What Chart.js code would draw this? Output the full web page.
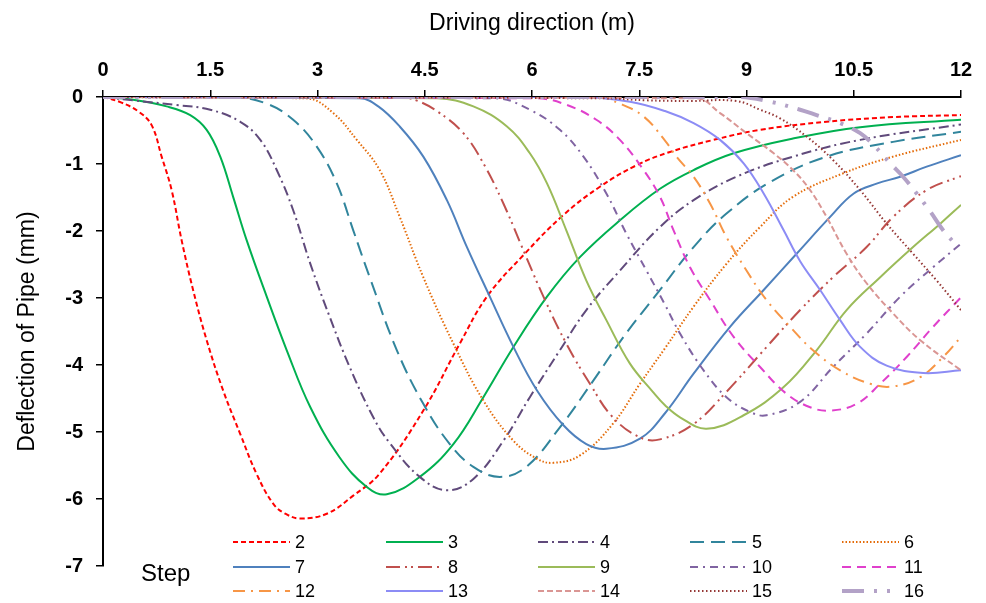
<!DOCTYPE html>
<html>
<head>
<meta charset="utf-8">
<title>Deflection of Pipe</title>
<script src="https://cdn.jsdelivr.net/npm/chart.js@4.4.0/dist/chart.umd.min.js"></script>
<style>
    html, body { margin: 0; padding: 0; background: #ffffff; }
    #wrap { width: 986px; height: 603px; }
</style>
</head>
<body>
<div id="wrap"><canvas id="deflectionChart" width="986" height="603"></canvas></div>
<script>
// Values (x in m, deflection in mm)
const stepLabels = ['2', '3', '4', '5', '6', '7', '8', '9', '10', '11', '12', '13', '14', '15', '16'];

const step2X = [0, 0.25, 0.5, 0.68, 0.82, 0.96, 1.1, 1.26, 1.45, 1.68, 1.92, 2.15, 2.38, 2.55, 2.76, 3.13, 3.5, 3.87, 4.48, 4.99, 5.37, 5.88, 6.44, 6.95, 7.46, 7.93, 8.54, 9.19, 10.12, 11.05, 12];
const step2Y = [0, -0.08, -0.22, -0.42, -0.89, -1.39, -2.14, -2.88, -3.63, -4.38, -5.03, -5.63, -6.07, -6.22, -6.29, -6.22, -5.95, -5.62, -4.68, -3.68, -2.98, -2.36, -1.76, -1.34, -1.02, -0.82, -0.64, -0.49, -0.37, -0.30, -0.27];

const step3X = [0, 0.42, 0.89, 1.22, 1.45, 1.64, 1.82, 2.01, 2.29, 2.57, 2.9, 3.31, 3.69, 3.97, 4.43, 4.9, 5.32, 5.74, 6.21, 6.67, 7.23, 7.79, 8.26, 8.82, 9.65, 10.59, 12];
const step3Y = [0, -0.04, -0.14, -0.27, -0.49, -0.89, -1.49, -2.14, -2.98, -3.78, -4.63, -5.38, -5.82, -5.93, -5.67, -5.18, -4.48, -3.73, -2.98, -2.39, -1.84, -1.37, -1.09, -0.84, -0.62, -0.45, -0.34];

const step4X = [0, 0.42, 1.03, 1.5, 1.92, 2.2, 2.43, 2.66, 2.9, 3.17, 3.45, 3.78, 4.0, 4.43, 4.81, 5.18, 5.6, 5.97, 6.39, 6.76, 7.23, 7.79, 8.26, 8.86, 9.65, 10.59, 12];
const step4Y = [0, -0.05, -0.12, -0.19, -0.37, -0.64, -1.09, -1.69, -2.49, -3.28, -4.03, -4.78, -5.15, -5.67, -5.87, -5.70, -5.13, -4.48, -3.78, -3.18, -2.59, -1.94, -1.54, -1.19, -0.89, -0.64, -0.41];

const step5X = [0, 1.82, 2.29, 2.66, 2.99, 3.27, 3.5, 3.73, 4.11, 4.48, 4.85, 5.18, 5.55, 5.92, 6.39, 6.86, 7.28, 7.79, 8.26, 8.72, 9.33, 10.12, 11.05, 12];
const step5Y = [0, 0, -0.10, -0.34, -0.74, -1.29, -1.99, -2.69, -3.78, -4.58, -5.18, -5.52, -5.67, -5.52, -4.93, -4.23, -3.58, -2.88, -2.24, -1.74, -1.27, -0.89, -0.67, -0.52];

const step6X = [0, 2.85, 3.22, 3.55, 3.87, 4.15, 4.48, 4.9, 5.32, 5.74, 6.07, 6.3, 6.67, 7.13, 7.51, 7.86, 8.26, 8.72, 9.19, 9.65, 10.35, 11.05, 12];
const step6Y = [0, -0.02, -0.24, -0.64, -1.09, -1.79, -2.69, -3.68, -4.53, -5.13, -5.40, -5.46, -5.35, -4.88, -4.28, -3.75, -3.13, -2.49, -1.94, -1.49, -1.14, -0.89, -0.64];

const step7X = [0, 3.59, 3.85, 4.15, 4.48, 4.81, 5.09, 5.41, 5.74, 6.07, 6.44, 6.76, 7.04, 7.51, 7.86, 8.26, 8.77, 9.24, 9.7, 10.17, 10.5, 10.83, 11.15, 11.52, 12];
const step7Y = [0, -0.02, -0.14, -0.44, -0.89, -1.54, -2.24, -2.98, -3.73, -4.38, -4.90, -5.18, -5.25, -5.10, -4.72, -4.13, -3.43, -2.88, -2.34, -1.79, -1.44, -1.29, -1.19, -1.04, -0.87];

const step8X = [0, 4.1, 4.38, 4.71, 5.04, 5.32, 5.6, 5.88, 6.16, 6.48, 6.81, 7.13, 7.51, 7.79, 8.26, 8.72, 9.24, 9.75, 10.21, 10.68, 11.05, 11.52, 12];
const step8Y = [0, 0, -0.05, -0.24, -0.54, -0.99, -1.59, -2.29, -2.98, -3.68, -4.28, -4.78, -5.08, -5.11, -4.88, -4.40, -3.78, -3.18, -2.69, -2.24, -1.79, -1.39, -1.18];

const step9X = [0, 4.67, 5.18, 5.65, 5.97, 6.21, 6.48, 6.76, 7.04, 7.37, 7.69, 7.86, 8.07, 8.44, 8.96, 9.52, 9.98, 10.4, 10.87, 11.33, 11.71, 12];
const step9Y = [0, -0.02, -0.14, -0.44, -0.84, -1.29, -1.99, -2.74, -3.33, -3.98, -4.40, -4.60, -4.78, -4.95, -4.75, -4.33, -3.78, -3.18, -2.69, -2.24, -1.89, -1.61];

const step10X = [0, 5.5, 5.97, 6.39, 6.72, 7.04, 7.32, 7.6, 7.86, 8.07, 8.4, 8.72, 9.05, 9.28, 9.75, 10.21, 10.68, 11.15, 11.61, 12];
const step10Y = [0, -0.02, -0.19, -0.49, -0.89, -1.44, -2.04, -2.59, -3.10, -3.53, -4.08, -4.48, -4.70, -4.75, -4.55, -4.03, -3.53, -2.98, -2.54, -2.19];

const step11X = [0, 6.07, 6.49, 6.9, 7.23, 7.56, 7.79, 7.98, 8.21, 8.49, 8.82, 9.19, 9.56, 9.89, 10.17, 10.54, 10.87, 11.24, 11.61, 12];
const step11Y = [0, -0.02, -0.12, -0.34, -0.64, -1.09, -1.49, -1.99, -2.54, -3.03, -3.58, -4.03, -4.43, -4.63, -4.68, -4.58, -4.28, -3.88, -3.43, -2.99];

const step12X = [0, 6.9, 7.23, 7.56, 7.86, 8.02, 8.26, 8.49, 8.72, 9.0, 9.28, 9.61, 9.93, 10.31, 10.73, 11.05, 11.43, 11.75, 12];
const step12Y = [0, 0, -0.10, -0.29, -0.65, -0.89, -1.19, -1.59, -2.09, -2.59, -3.03, -3.43, -3.78, -4.08, -4.28, -4.32, -4.18, -3.88, -3.58];

const step13X = [0, 6.67, 7.37, 7.86, 8.26, 8.63, 8.96, 9.24, 9.52, 9.75, 10.03, 10.31, 10.59, 10.96, 11.47, 12];
const step13Y = [0, 0, -0.07, -0.21, -0.39, -0.64, -0.99, -1.44, -1.99, -2.45, -2.88, -3.33, -3.73, -4.01, -4.12, -4.08];

const step14X = [0, 8.3, 8.63, 9.0, 9.38, 9.65, 9.89, 10.12, 10.4, 10.68, 11.05, 11.43, 12];
const step14Y = [0, -0.02, -0.24, -0.54, -0.84, -1.09, -1.39, -1.79, -2.34, -2.78, -3.23, -3.63, -4.08];

const step15X = [0, 7.0, 7.6, 8.2, 8.86, 9.19, 9.47, 9.84, 10.21, 10.59, 10.96, 11.33, 11.66, 12];
const step15Y = [0, -0.02, -0.05, -0.06, -0.06, -0.19, -0.32, -0.59, -0.94, -1.39, -1.89, -2.34, -2.74, -3.18];

const step16X = [0, 8.86, 9.33, 9.75, 9.98, 10.31, 10.59, 10.78, 11.01, 11.19, 11.38, 11.57, 11.75, 11.9];
const step16Y = [0, 0, -0.07, -0.19, -0.27, -0.39, -0.54, -0.72, -0.99, -1.19, -1.44, -1.71, -1.99, -2.17];

const xTickValues = [0, 1.5, 3, 4.5, 6, 7.5, 9, 10.5, 12];
const yTickValues = [0, -1, -2, -3, -4, -5, -6, -7];

// Line styles for each step (Excel-like palette)
const stepColors = ['#FF0000', '#00B050', '#604A7B', '#31859C', '#E46C0A', '#4F81BD', '#C0504D', '#9BBB59',
    '#8064A2', '#E040CC', '#F79646', '#8C8CF5', '#DA9694', '#953735', '#B3A2C7'];
const stepDashes = [[5, 3], [], [10, 4, 2, 4], [14, 7], [1.5, 2], [], [14, 5, 2, 4, 2, 5], [],
    [8, 5, 2, 5], [9, 6], [12, 6, 2, 6], [], [6, 3], [1.5, 2.5], [22, 10, 3, 10, 3, 10]];
const stepWidths = [2, 2, 2, 2, 2, 2, 2, 2, 2, 2, 2, 2, 2, 2, 4];

const FONT = '"Liberation Sans", Arial, Helvetica, sans-serif';

document.addEventListener('DOMContentLoaded', () => {
    drawChart();
});

function buildDatasets() {
    const xs = [step2X, step3X, step4X, step5X, step6X, step7X, step8X, step9X, step10X, step11X, step12X, step13X, step14X, step15X, step16X];
    const ys = [step2Y, step3Y, step4Y, step5Y, step6Y, step7Y, step8Y, step9Y, step10Y, step11Y, step12Y, step13Y, step14Y, step15Y, step16Y];

    return stepLabels.map((label, i) => ({
        label: label,
        data: xs[i].map((x, j) => ({ x: x, y: ys[i][j] })),
        borderColor: stepColors[i],
        backgroundColor: stepColors[i],
        borderDash: stepDashes[i],
        borderWidth: stepWidths[i],
        pointRadius: 0,
        fill: false,
        tension: 0.4, // smooth curves like the original
        order: stepLabels.length - i // later steps drawn on top
    }));
}

// Legend sits inside the plot, below the curves, 5 columns x 3 rows
const stepLegend = {
    id: 'stepLegend',
    afterDraw(chart) {
        const ctx = chart.ctx;
        const colX = [233, 386, 538, 690, 842];
        const rowY = [542, 567, 591];
        const lineLen = 57;

        ctx.save();
        ctx.font = '18px ' + FONT;
        ctx.textBaseline = 'middle';
        ctx.textAlign = 'left';
        chart.data.datasets.forEach((ds, i) => {
            const x = colX[i % 5];
            const y = rowY[Math.floor(i / 5)];
            ctx.strokeStyle = ds.borderColor;
            ctx.lineWidth = ds.borderWidth;
            ctx.setLineDash(ds.borderDash);
            ctx.beginPath();
            ctx.moveTo(x, y);
            ctx.lineTo(x + lineLen, y);
            ctx.stroke();
            ctx.setLineDash([]);
            ctx.fillStyle = '#000';
            ctx.fillText(ds.label, x + lineLen + 5, y + 1);
        });

        ctx.font = '24px ' + FONT;
        ctx.fillText('Step', 141, 574);
        ctx.restore();
    }
};

function drawChart() {
    const ctx = document.getElementById('deflectionChart').getContext('2d');

    new Chart(ctx, {
        type: 'line',
        data: { datasets: buildDatasets() },
        options: {
            responsive: false,
            animation: false,
            devicePixelRatio: 1,
            layout: { padding: { left: 0, top: 0, right: 25, bottom: 37 } },
            plugins: {
                legend: { display: false },
                tooltip: { enabled: false }
            },
            scales: {
                x: {
                    type: 'linear',
                    position: 'top',
                    min: 0,
                    max: 12,
                    afterBuildTicks: (scale) => {
                        scale.ticks = xTickValues.map(v => ({ value: v }));
                    },
                    afterFit: (scale) => { scale.height = 97; },
                    grid: { drawOnChartArea: false, tickLength: 7, color: '#000', lineWidth: 1.5 },
                    border: { display: true, color: '#000', width: 2 },
                    ticks: {
                        color: '#000',
                        padding: 8,
                        maxRotation: 0,
                        font: { family: FONT, size: 20, weight: 'bold' }
                    },
                    title: {
                        display: true,
                        text: 'Driving direction (m)',
                        color: '#000',
                        padding: { top: 10, bottom: 0 },
                        font: { family: FONT, size: 23 }
                    }
                },
                y: {
                    type: 'linear',
                    min: -7,
                    max: 0,
                    afterBuildTicks: (scale) => {
                        scale.ticks = yTickValues.map(v => ({ value: v }));
                    },
                    afterFit: (scale) => { scale.width = 103; },
                    grid: { drawOnChartArea: false, tickLength: 7, color: '#000', lineWidth: 1.5 },
                    border: { display: true, color: '#000', width: 2 },
                    ticks: {
                        color: '#000',
                        padding: 13,
                        font: { family: FONT, size: 20, weight: 'bold' }
                    },
                    title: {
                        display: true,
                        text: 'Deflection of Pipe (mm)',
                        color: '#000',
                        padding: { top: 14, bottom: 0 },
                        font: { family: FONT, size: 23 }
                    }
                }
            }
        },
        plugins: [stepLegend]
    });
}
</script>
</body>
</html>
